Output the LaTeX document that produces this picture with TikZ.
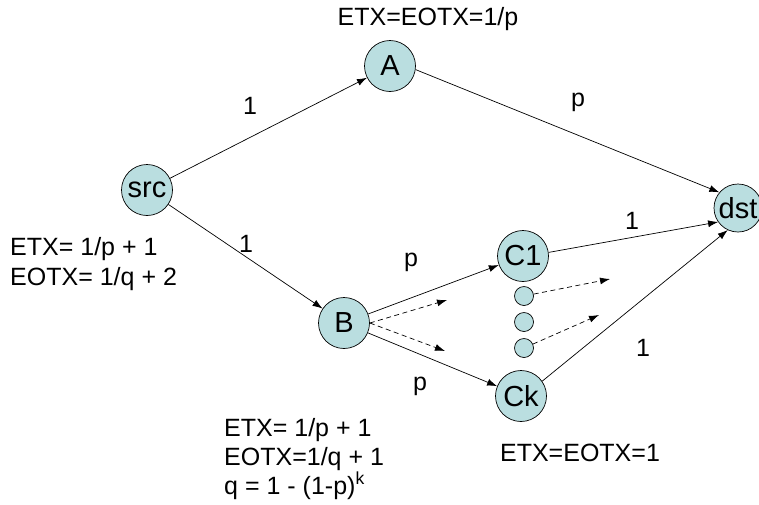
\documentclass[tikz,border=0pt]{standalone}
\usepackage{fontspec}
\setmainfont{Liberation Sans}
\usetikzlibrary{arrows.meta}
\definecolor{nodefill}{RGB}{186,222,224}
\begin{document}
\begin{tikzpicture}[x=1pt,y=-1pt,
  vertex/.style={circle,draw=black,fill=nodefill,minimum size=51pt,inner sep=0pt,line width=0.7pt,font=\fontsize{29}{32}\selectfont},
  dot/.style={circle,draw=black,fill=nodefill,minimum size=19pt,inner sep=0pt,line width=0.7pt},
  edge/.style={-{Latex[length=10pt,width=7pt]},line width=0.7pt},
  dedge/.style={-{Latex[length=10pt,width=7pt]},line width=0.7pt,dash pattern=on 5pt off 3.5pt},
  lbl/.style={font=\fontsize{25}{30}\selectfont,inner sep=0pt},
  txt/.style={font=\fontsize{25}{30}\selectfont,inner sep=0pt}]
\useasboundingbox (0,0) rectangle (759,504);
\node[vertex] (src) at (147,190) {src};
\node[vertex] (A) at (390,66) {A};
\node[vertex] (B) at (344,323) {B};
\node[vertex] (C1) at (523,256) {C1};
\node[vertex] (Ck) at (521,396) {Ck};
\node[vertex,minimum size=48pt] (dst) at (738,208) {dst};
\node[dot] (d1) at (524,296) {};
\node[dot] (d2) at (524,322) {};
\node[dot] (d3) at (524,348) {};
\coordinate (e1) at (447,300);
\coordinate (e2) at (445,351);
\coordinate (e3) at (610,279);
\coordinate (e4) at (599,315);

\draw[edge] (src) -- (A);
\draw[edge] (src) -- (B);
\draw[edge] (A.-8) -- (dst.140);
\draw[edge] (B) -- (C1);
\draw[edge] (B) -- (Ck);
\draw[edge] (C1.8) -- (dst.215);
\draw[edge] (Ck.35) -- (dst.245);
\draw[dedge] (B.east) -- (e1);
\draw[dedge] (B.east) -- (e2);
\draw[dedge] (d1) -- (e3);
\draw[dedge] (d3) -- (e4);

\node[lbl] (l1) at (250,106) {1};
\node[lbl] (l2) at (578,102) {p};
\node[lbl] (l3) at (246,244) {1};
\node[lbl] (l4) at (411,262) {p};
\node[lbl] (l5) at (420,386) {p};
\node[lbl] (l6) at (632,221) {1};
\node[lbl] (l7) at (643,348) {1};

\node[txt,anchor=base] (t1) at (428,25) {ETX=EOTX=1/p};
\node[txt,anchor=base west] (t2) at (10,255) {ETX= 1/p + 1};
\node[txt,anchor=base west] (t3) at (10,285) {EOTX= 1/q + 2};
\node[txt,anchor=base west] (t4) at (224,436) {ETX= 1/p + 1};
\node[txt,anchor=base west] (t5) at (224,465) {EOTX=1/q + 1};
\node[txt,anchor=base west] (t6) at (224,494) {q = 1 - (1-p)\textsuperscript{k}};
\node[txt,anchor=base] (t7) at (580,461) {ETX=EOTX=1};
\end{tikzpicture}
\end{document}
